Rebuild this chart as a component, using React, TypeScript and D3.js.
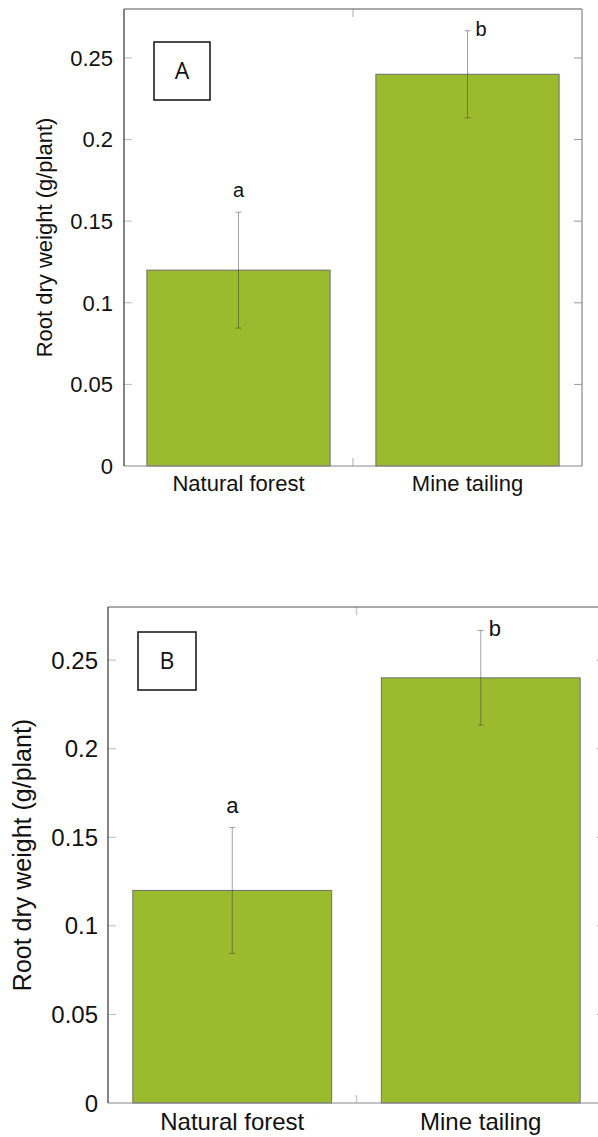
import React from "react";
import * as d3 from "d3";

// Root dry weight per site, with standard errors and significance letters
const categories = ["Natural forest", "Mine tailing"];
const meanWeights = [0.12, 0.24];
const stdErrors = [0.0355, 0.0267];
const groupLetters = ["a", "b"];
const yTicks = [0, 0.05, 0.1, 0.15, 0.2, 0.25];
const yMax = 0.28;
const panelTags = ["A", "B"];
const yTitle = "Root dry weight (g/plant)";

const FONT = "'Liberation Sans', Arial, Helvetica, sans-serif";
const BAR_FILL = "#9bbb2e";

type Layout = {
  left: number;
  right: number;
  top: number;
  bottom: number;
  font: number;
  letterFont: number;
  titleFont: number;
  titleX: number;
  tickGap: number;
  xLabelDy: number;
  tag: { x: number; y: number; w: number; h: number; font: number };
};

const layouts: Layout[] = [
  {
    left: 124, right: 582, top: 9, bottom: 466,
    font: 22, letterFont: 20, titleFont: 22, titleX: 52, tickGap: 11, xLabelDy: 25,
    tag: { x: 154, y: 42, w: 56, h: 58, font: 23 },
  },
  {
    left: 108, right: 605, top: 607, bottom: 1103,
    font: 24, letterFont: 22, titleFont: 25, titleX: 31, tickGap: 10, xLabelDy: 27,
    tag: { x: 138, y: 632, w: 58, h: 58, font: 23 },
  },
];

function Panel({ L, tagText }: { L: Layout; tagText: string }) {
  const x = d3.scaleBand<string>().domain(categories).range([L.left, L.right]).paddingInner(0.2).paddingOuter(0.1);
  const band = d3.scaleBand<string>().domain(categories).range([L.left, L.right]);
  const y = d3.scaleLinear().domain([0, yMax]).range([L.bottom, L.top]);
  const tickLen = 8;
  const capW = 6;
  const midY = (L.top + L.bottom) / 2;

  return (
    <g>
      {/* bars */}
      {categories.map((c, i) => (
        <rect
          key={c}
          x={x(c)!}
          y={y(meanWeights[i])}
          width={x.bandwidth()}
          height={y(0) - y(meanWeights[i])}
          fill={BAR_FILL}
          stroke="#6e6e6e"
          strokeWidth={1}
        />
      ))}
      {/* error bars */}
      {categories.map((c, i) => {
        const cx = x(c)! + x.bandwidth() / 2;
        const hi = y(meanWeights[i] + stdErrors[i]);
        const lo = y(meanWeights[i] - stdErrors[i]);
        return (
          <g key={c} stroke="#333" strokeOpacity={0.45} strokeWidth={1}>
            <line x1={cx} x2={cx} y1={hi} y2={lo} />
            <line x1={cx - capW / 2} x2={cx + capW / 2} y1={hi} y2={hi} />
            <line x1={cx - capW / 2} x2={cx + capW / 2} y1={lo} y2={lo} />
          </g>
        );
      })}
      {/* significance letters */}
      {categories.map((c, i) => {
        const cx = x(c)! + x.bandwidth() / 2;
        const hi = y(meanWeights[i] + stdErrors[i]);
        const above = hi - 15;
        const fits = above - L.letterFont * 0.75 > L.top;
        return fits ? (
          <text key={c} x={cx} y={above} textAnchor="middle" fontFamily={FONT} fontSize={L.letterFont} fill="#111">
            {groupLetters[i]}
          </text>
        ) : (
          <text key={c} x={cx + 8} y={hi + 5} textAnchor="start" fontFamily={FONT} fontSize={L.letterFont} fill="#111">
            {groupLetters[i]}
          </text>
        );
      })}
      {/* y ticks, both sides */}
      {yTicks.map((t) => (
        <g key={t}>
          {t > 0 && (
            <>
              <line x1={L.left} x2={L.left + tickLen} y1={y(t)} y2={y(t)} stroke="#bbb" />
              <line x1={L.right - tickLen} x2={L.right} y1={y(t)} y2={y(t)} stroke="#999" />
            </>
          )}
          <text
            x={L.left - L.tickGap}
            y={y(t)}
            dy="0.36em"
            textAnchor="end"
            fontFamily={FONT}
            fontSize={L.font}
            fill="#111"
          >
            {t === 0 ? "0" : String(t)}
          </text>
        </g>
      ))}
      {/* category boundary ticks */}
      {categories.slice(1).map((c) => (
        <g key={c} stroke="#c8c8c8" strokeWidth={1.5}>
          <line x1={band(c)!} x2={band(c)!} y1={L.bottom} y2={L.bottom - tickLen} />
          <line x1={band(c)!} x2={band(c)!} y1={L.top} y2={L.top + tickLen} />
        </g>
      ))}
      {/* frame */}
      <line x1={L.left} x2={L.right} y1={L.top} y2={L.top} stroke="#555" strokeWidth={1.2} />
      <line x1={L.right} x2={L.right} y1={L.top} y2={L.bottom} stroke="#888" strokeWidth={1.2} />
      <line x1={L.left} x2={L.right} y1={L.bottom} y2={L.bottom} stroke="#888" strokeWidth={1.2} />
      <line x1={L.left} x2={L.left} y1={L.top} y2={L.bottom} stroke="#333" strokeWidth={1.2} />
      {/* category labels */}
      {categories.map((c) => (
        <text
          key={c}
          x={x(c)! + x.bandwidth() / 2}
          y={L.bottom + L.xLabelDy}
          textAnchor="middle"
          fontFamily={FONT}
          fontSize={L.font}
          fill="#111"
        >
          {c}
        </text>
      ))}
      {/* y-axis title */}
      <text
        transform={`translate(${L.titleX},${midY}) rotate(-90)`}
        textAnchor="middle"
        fontFamily={FONT}
        fontSize={L.titleFont}
        fill="#111"
      >
        {yTitle}
      </text>
      {/* panel tag */}
      <rect x={L.tag.x} y={L.tag.y} width={L.tag.w} height={L.tag.h} fill="#fff" stroke="#111" strokeWidth={1.5} />
      <text
        x={L.tag.x + L.tag.w / 2}
        y={L.tag.y + L.tag.h / 2}
        dy="0.36em"
        textAnchor="middle"
        fontFamily="'Open Sans', Lato, sans-serif"
        fontSize={L.tag.font}
        fill="#111"
      >
        {tagText}
      </text>
    </g>
  );
}

export default function App() {
  return (
    <svg
      width={598}
      height={1137}
      style={{ position: "absolute", left: 0, top: 0, background: "#fff" }}
    >
      <rect width={598} height={1137} fill="#fff" />
      {layouts.map((L, i) => (
        <Panel key={panelTags[i]} L={L} tagText={panelTags[i]} />
      ))}
    </svg>
  );
}
